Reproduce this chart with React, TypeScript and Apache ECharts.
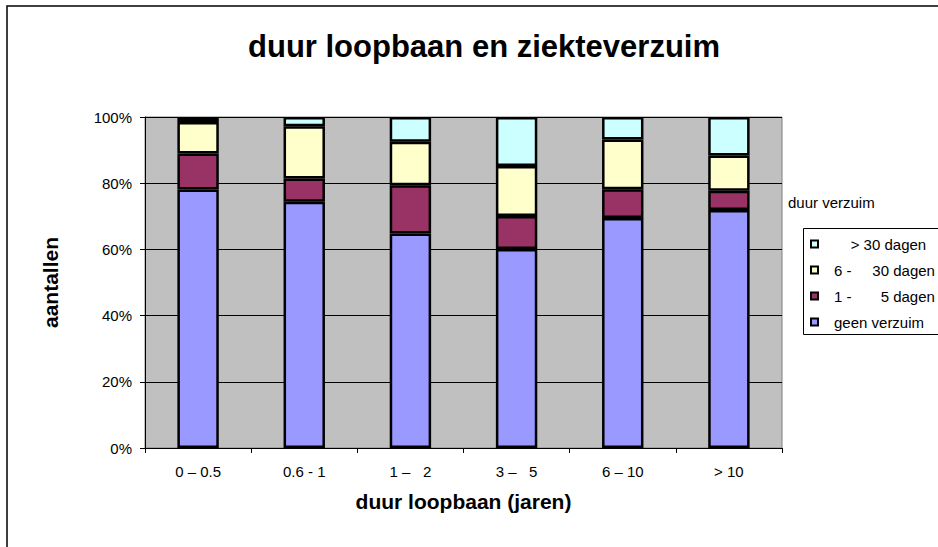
import React, { useEffect, useRef } from "react";
import * as echarts from "echarts";

const categories = ["0 \u2013 0.5", "0.6 - 1", "1 \u2013\u00A0\u00A0 2", "3 \u2013\u00A0\u00A0 5", "6 \u2013 10", "> 10"];
const seriesNames = [
  "geen verzuim",
  "1 -\u00A0\u00A0\u00A0\u00A0\u00A0\u00A0 5 dagen",
  "6 -\u00A0\u00A0\u00A0\u00A0 30 dagen",
  "\u00A0\u00A0\u00A0 > 30 dagen",
];
const geenVerzuim = [78.1, 74.4, 64.8, 60.1, 69.5, 71.9];
const dagen1to5 = [10.9, 7.0, 14.6, 10.0, 8.7, 5.8];
const dagen6to30 = [9.5, 15.8, 13.1, 15.1, 15.0, 10.7];
const dagenOver30 = [1.5, 2.8, 7.5, 14.8, 6.8, 11.6];
const seriesValues = [geenVerzuim, dagen1to5, dagen6to30, dagenOver30];
const seriesColors = ["#9999FF", "#993366", "#FFFFCC", "#CCFFFF"];
const yTicks = [0, 20, 40, 60, 80, 100];

const FONT = 'Arial, "Liberation Sans", sans-serif';

export default function App() {
  const ref = useRef<HTMLDivElement>(null);
  useEffect(() => {
    if (!ref.current) return;
    const chart = echarts.init(ref.current, undefined, { renderer: "svg" });
    chart.setOption({
      animation: false,
      backgroundColor: "#FFFFFF",
      title: {
        text: "duur loopbaan en ziekteverzuim",
        left: 479,
        top: 26,
        textAlign: "center",
        textStyle: { fontFamily: FONT, fontSize: 31, fontWeight: "bold", color: "#000" },
      },
      graphic: [
        {
          type: "rect",
          z: -10,
          silent: true,
          shape: { x: 7, y: 6, width: 1000, height: 1000 },
          style: { fill: "none", stroke: "#000", lineWidth: 1.5 },
        },
        {
          type: "rect",
          z: 0,
          silent: true,
          shape: { x: 803.5, y: 228.5, width: 200, height: 106 },
          style: { fill: "#FFFFFF", stroke: "#000", lineWidth: 1 },
        },
        {
          type: "text",
          z: 1,
          x: 788,
          y: 202,
          style: {
            text: "duur verzuim",
            fontFamily: FONT,
            fontSize: 15,
            fill: "#000",
            verticalAlign: "middle",
          },
        },
      ],
      legend: {
        orient: "vertical",
        left: 810,
        top: 236,
        padding: 0,
        itemGap: 10,
        itemWidth: 7,
        itemHeight: 7,
        icon: "rect",
        data: [seriesNames[3], seriesNames[2], seriesNames[1], seriesNames[0]],
        textStyle: { fontFamily: FONT, fontSize: 15, color: "#000", lineHeight: 16, padding: [0, 0, 0, 11] },
      },
      grid: {
        left: 145,
        right: 156,
        top: 117,
        bottom: 99,
        show: true,
        backgroundColor: "#C0C0C0",
        borderColor: "#808080",
        borderWidth: 1,
      },
      xAxis: {
        type: "category",
        data: categories,
        name: "duur loopbaan (jaren)",
        nameLocation: "middle",
        nameGap: 43,
        nameTextStyle: { fontFamily: FONT, fontSize: 21, fontWeight: "bold", color: "#000" },
        axisLine: { lineStyle: { color: "#000", width: 1 } },
        axisTick: { show: true, length: 5, inside: false, lineStyle: { color: "#000" } },
        axisLabel: { fontFamily: FONT, fontSize: 15, color: "#000", margin: 16 },
        splitLine: { show: false },
      },
      yAxis: {
        type: "value",
        min: yTicks[0],
        max: yTicks[yTicks.length - 1],
        interval: 20,
        name: "aantallen",
        nameLocation: "middle",
        nameRotate: 90,
        nameGap: 84,
        nameTextStyle: { fontFamily: FONT, fontSize: 21, fontWeight: "bold", color: "#000" },
        axisLine: { show: true, lineStyle: { color: "#000", width: 1 } },
        axisTick: { show: true, length: 5, inside: false, lineStyle: { color: "#000" } },
        axisLabel: { fontFamily: FONT, fontSize: 15, color: "#000", margin: 13, formatter: "{value}%" },
        splitLine: { show: true, lineStyle: { color: "#000", width: 1 } },
      },
      series: seriesNames.map((name, i) => ({
        name,
        type: "bar",
        stack: "total",
        barWidth: "39%",
        data: seriesValues[i],
        itemStyle: { color: seriesColors[i], borderColor: "#000", borderWidth: 2.5 },
      })),
    });
    return () => chart.dispose();
  }, []);
  return (
    <div
      ref={ref}
      style={{ position: "absolute", left: 0, top: 0, width: 938, height: 547 }}
    />
  );
}
